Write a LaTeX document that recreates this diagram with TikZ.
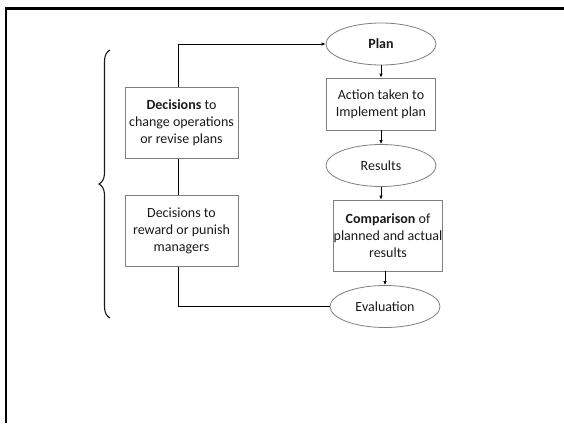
\documentclass[tikz,border=0pt]{standalone}
\usepackage{fontspec}
\setmainfont{Carlito}
\usetikzlibrary{shapes.geometric,arrows.meta,decorations.pathreplacing}
\definecolor{edgegray}{HTML}{7F7F7F}
\definecolor{ink}{HTML}{1A1A1A}
\tikzset{
  base/.style={draw=edgegray, line width=0.8pt, text=ink, align=center, inner sep=0pt,
    font=\fontsize{14}{17}\selectfont},
  stepbox/.style={base, rectangle, minimum width=#1},
  stepbox/.default=109pt,
  oval/.style={base, ellipse, minimum width=110pt, minimum height=42pt},
  link/.style={draw=black, line width=0.8pt},
  flow/.style={link, -{Latex[length=4pt,width=3.5pt]}},
}
\begin{document}
\begin{tikzpicture}[x=1pt,y=-1pt]
\useasboundingbox (0,0) rectangle (564,423);
% page frame
\draw[line width=2.6pt] (6,423) |- (564,8.5);

% main cycle
\node[oval] (plan) at (381,44) {\textbf{Plan}};
\node[stepbox, minimum height=52pt] (action) at (381,104) {Action taken to\\Implement plan};
\node[oval] (results) at (381,165.5) {Results};
\node[stepbox, minimum height=71pt] (compare) at (388,235.5) {\textbf{Comparison} of\\planned and actual\\results};
\node[oval] (eval) at (385,306.5) {Evaluation};

% feedback decisions
\node[stepbox=113pt, minimum height=71pt] (decide) at (181.5,123) {\textbf{Decisions} to\\change operations\\or revise plans};
\node[stepbox=113pt, minimum height=71pt] (reward) at (181.5,231) {Decisions to\\reward or punish\\managers};
\coordinate (trunk) at (178,0);

\draw[flow] (plan.south) -- (plan.south |- action.north);
\draw[flow] (plan.south |- action.south) -- (plan.south |- results.north);
\draw[flow] (plan.south |- results.south) -- (plan.south |- compare.north);
\draw[flow] (eval.north |- compare.south) -- (eval.north);

\draw[flow] (decide.north -| trunk) |- (plan.west);
\draw[link] (decide.south -| trunk) -- (reward.north -| trunk);
\draw[link, line width=1.0pt] (reward.south -| trunk) |- (eval.west);

% bracket spanning both decision boxes
\coordinate (braceBot) at (110,318);
\coordinate (braceTop) at (110,50);
\draw[draw=ink, line width=1.1pt, decorate, decoration={brace, amplitude=11pt}]
  (braceBot) -- (braceTop);
\end{tikzpicture}
\end{document}
